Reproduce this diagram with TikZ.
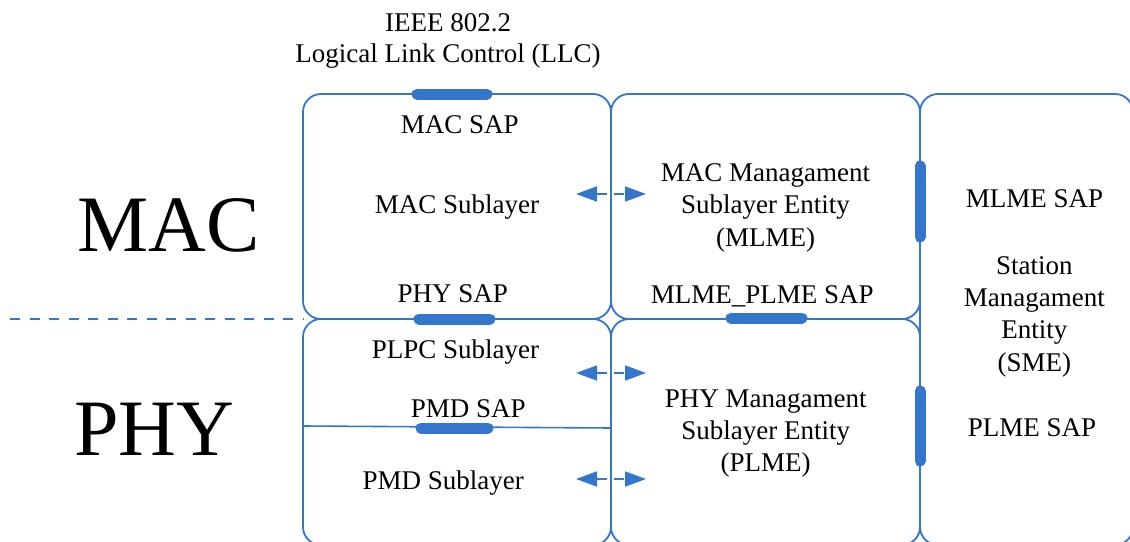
\documentclass[tikz,border=0pt]{standalone}
\usepackage{fontspec}
\setmainfont{Liberation Serif}
\usetikzlibrary{arrows.meta}
\definecolor{linkblue}{RGB}{53,118,205}
\tikzset{
  box/.style={rectangle, draw=linkblue, line width=1.8pt, rounded corners=18pt,
    inner sep=0pt, outer sep=0pt},
  % multi-line labels are placed by the baseline of their last line
  txt/.style={font=\fontsize{27}{32.3}\selectfont, align=center, inner sep=0pt, anchor=base},
  bigtxt/.style={font=\fontsize{80}{90}\selectfont, inner sep=0pt, anchor=base},
  sapbar/.style={draw=linkblue, line width=11pt, line cap=round},
  thinline/.style={draw=linkblue, line width=1.6pt},
  divider/.style={draw=linkblue, line width=1.6pt, dash pattern=on 10pt off 9.5pt},
  biarrow/.style={draw=linkblue, line width=1.8pt, dash pattern=on 10pt off 7pt,
    {Triangle[length=21pt,width=15pt]}-{Triangle[length=21pt,width=15pt]}}
}
\begin{document}
\begin{tikzpicture}[x=1pt,y=-1pt]
\useasboundingbox (0,0) rectangle (1130,541);
\clip (0,0) rectangle (1130,541);

% layer boxes
\node[box, minimum width=308pt, minimum height=225pt] (mac)  at (457,206.5) {};
\node[box, minimum width=309pt, minimum height=225pt] (mlme) at (765.5,206.5) {};
\node[box, minimum width=308pt, minimum height=226pt] (phy)  at (457,432) {};
\node[box, minimum width=309pt, minimum height=226pt] (plme) at (765.5,432) {};
\node[box, minimum width=213pt, minimum height=451pt] (sme)  at (1026.5,319.5) {};

% MAC / PHY divider
\coordinate (divL) at (10,319);
\draw[divider] (divL) -- (mac.south west);

% PMD service access line inside the PHY box
\coordinate (pmdL) at (303,426);
\coordinate (pmdR) at (611,428);
\draw[thinline] (pmdL) -- (pmdR);

% service access points
\coordinate (macsapA) at (417,94);   \coordinate (macsapB) at (487,94);
\coordinate (physapA) at (419,319);  \coordinate (physapB) at (490,319);
\coordinate (mpsapA)  at (731,318);  \coordinate (mpsapB)  at (802,318);
\coordinate (pmdsapA) at (421,428);  \coordinate (pmdsapB) at (488,428);
\coordinate (mlsapA)  at (920,166);  \coordinate (mlsapB)  at (920,237);
\coordinate (plsapA)  at (920,391);  \coordinate (plsapB)  at (920,461);
\draw[sapbar] (macsapA) -- (macsapB);
\draw[sapbar] (physapA) -- (physapB);
\draw[sapbar] (mpsapA) -- (mpsapB);
\draw[sapbar] (pmdsapA) -- (pmdsapB);
\draw[sapbar] (mlsapA) -- (mlsapB);
\draw[sapbar] (plsapA) -- (plsapB);

% management exchanges
\coordinate (arA1) at (576,194);  \coordinate (arB1) at (646,194);
\coordinate (arA2) at (576,373);  \coordinate (arB2) at (646,373);
\coordinate (arA3) at (576,479);  \coordinate (arB3) at (646,479);
\draw[biarrow] (arA1) -- (arB1);
\draw[biarrow] (arA2) -- (arB2);
\draw[biarrow] (arA3) -- (arB3);

% labels
\node[txt, font=\fontsize{27}{30.5}\selectfont] (llc) at (448,62) {IEEE 802.2\\Logical Link Control (LLC)};
\node[bigtxt] (maclbl) at (168.7,251.7) {MAC};
\node[bigtxt] (phylbl) at (154.2,455) {PHY};

\node[txt] (macsap) at (459.7,133.3) {MAC SAP};
\node[txt] (macsub) at (457,213.3) {MAC Sublayer};
\node[txt] (physap) at (452.8,302.7) {PHY SAP};
\node[txt] (plpc)   at (455.5,358.3) {PLPC Sublayer};
\node[txt] (pmdsap) at (468.3,417.3) {PMD SAP};
\node[txt] (pmdsub) at (443.3,489.3) {PMD Sublayer};

\node[txt] (mlmetxt) at (765.5,246) {MAC Managament\\Sublayer Entity\\(MLME)};
\node[txt] (mpsap)   at (762.3,303.3) {MLME\_PLME SAP};
\node[txt] (plmetxt) at (765.7,471.7) {PHY Managament\\Sublayer Entity\\(PLME)};

\node[txt] (mlsap)  at (1034.5,207.7) {MLME SAP};
\node[txt] (smetxt) at (1034.3,371) {Station\\Managament\\Entity\\(SME)};
\node[txt] (plsap)  at (1032,436) {PLME SAP};
\end{tikzpicture}
\end{document}
